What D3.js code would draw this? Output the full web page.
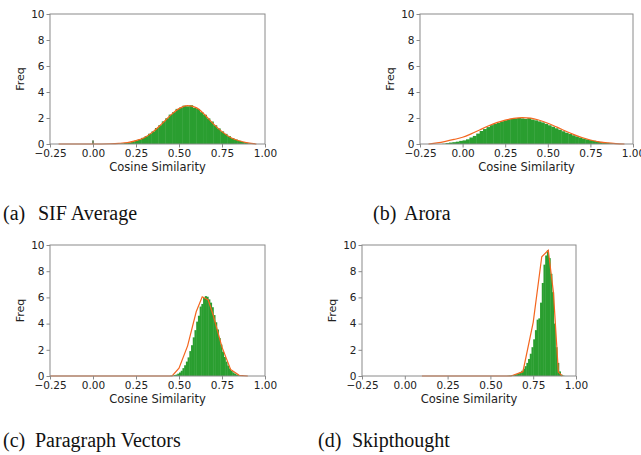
<!DOCTYPE html>
<html><head><meta charset="utf-8">
<script src="https://cdn.jsdelivr.net/npm/d3@7"></script>
<style>body{margin:0;background:#fff}svg{display:block}</style>
</head>
<body><svg id="c" width="641" height="455"></svg>
<script>
// ---------- data ----------
const xTickValues = [-0.25, 0, 0.25, 0.5, 0.75, 1.0];
const yTickValues = [0, 2, 4, 6, 8, 10];
const captionLabels = ["(a)", "(b)", "(c)", "(d)"];
const captionTexts = ["SIF Average", "Arora", "Paragraph Vectors", "Skipthought"];
const xAxisTitle = "Cosine Similarity";
const yAxisTitle = "Freq";

// (a) SIF Average: histogram (bin start, bin width, densities)
const sifBinStart = 0.10, sifBinWidth = 0.02;
const sifHist = [0.01,0.02,0.03,0.05,0.08,0.12,0.18,0.26,0.35,0.47,0.6,0.79,0.97,1.23,1.45,1.74,1.98,2.26,2.45,2.7,2.8,2.95,2.9,2.98,2.78,2.7,2.45,2.25,1.97,1.73,1.44,1.2,0.97,0.78,0.6,0.45,0.34,0.24,0.16,0.1,0.05];
const sifSpikeX = [-0.004], sifSpikeW = 0.008, sifSpikeY = [0.28];
const sifCurveX = [-0.2,0,0.1,0.15,0.2,0.25,0.3,0.35,0.4,0.45,0.5,0.55,0.6,0.65,0.7,0.75,0.8,0.85,0.9,0.95];
const sifCurveY = [0,0,0.02,0.05,0.11,0.26,0.5,0.95,1.55,2.2,2.72,2.95,2.8,2.25,1.55,0.95,0.5,0.25,0.08,0];

// (b) Arora
const aroraBinStart = -0.14, aroraBinWidth = 0.02;
const aroraHist = [0,0.02,0.07,0.11,0.14,0.18,0.24,0.28,0.36,0.5,0.62,0.8,1.0,1.15,1.3,1.45,1.55,1.64,1.74,1.82,1.9,1.94,1.97,2.0,1.97,1.93,1.99,1.88,1.82,1.74,1.66,1.55,1.44,1.33,1.21,1.1,0.98,0.87,0.77,0.67,0.58,0.5,0.42,0.36,0.3,0.25,0.2,0.16,0.12,0.09,0.06,0.03];
const aroraCurveX = [-0.2,-0.15,-0.1,-0.05,0,0.05,0.1,0.15,0.2,0.25,0.3,0.35,0.4,0.45,0.5,0.55,0.6,0.65,0.7,0.75,0.8,0.85,0.9,0.95];
const aroraCurveY = [0,0.08,0.2,0.35,0.52,0.78,1.08,1.38,1.64,1.84,1.97,2.03,1.99,1.83,1.6,1.32,1.02,0.74,0.5,0.31,0.17,0.08,0.03,0];

// (c) Paragraph Vectors
const pvBinStart = 0.45, pvBinWidth = 0.01;
const pvHist = [0.03,0.04,0.07,0.11,0.18,0.27,0.4,0.6,0.82,1.1,1.42,1.9,2.35,2.95,3.5,4.15,4.6,5.3,5.5,5.95,6.1,6.05,5.85,5.6,5.25,4.65,4.1,3.55,2.9,2.4,1.85,1.45,1.1,0.8,0.57,0.4,0.27,0.18,0.11,0.07,0.04,0.03];
const pvCurveX = [-0.25,0.46,0.5,0.55,0.6,0.635,0.67,0.7,0.75,0.8,0.85,0.9];
const pvCurveY = [0,0,0.6,2.3,4.9,6.05,5.8,4.6,2.2,0.5,0.05,0];

// (d) Skipthought
const skipBinStart = 0.60, skipBinWidth = 0.01;
const skipHist = [0.02,0.03,0.05,0.07,0.1,0.14,0.2,0.28,0.4,0.55,0.75,1.0,1.3,1.7,2.2,2.8,3.5,4.3,4.4,5.6,7.1,8.5,9.2,9.6,9.0,7.8,6.4,4.0,2.2,1.0,0.35,0.1,0.03];
const skipCurveX = [0.1,0.62,0.69,0.75,0.8,0.838,0.868,0.897,0.92];
const skipCurveY = [0,0,0.33,4.1,9.1,9.6,6.4,0.3,0];

// ---------- layout ----------
const panels = [
  {l:50,  r:265, t:14,  b:144, capX:3,   capRestX:38,  capY:220, start:sifBinStart, width:sifBinWidth, hist:sifHist, cx:sifCurveX, cy:sifCurveY, curve:d3.curveMonotoneX, spike:true},
  {l:420, r:633, t:14,  b:144, capX:373, capRestX:404, capY:220, start:aroraBinStart, width:aroraBinWidth, hist:aroraHist, cx:aroraCurveX, cy:aroraCurveY, curve:d3.curveMonotoneX},
  {l:50,  r:265, t:245, b:376, capX:3,   capRestX:35,  capY:447, start:pvBinStart, width:pvBinWidth, hist:pvHist, cx:pvCurveX, cy:pvCurveY, curve:d3.curveLinear},
  {l:362, r:576, t:245, b:376, capX:318, capRestX:352, capY:447, start:skipBinStart, width:skipBinWidth, hist:skipHist, cx:skipCurveX, cy:skipCurveY, curve:d3.curveLinear}
];

const GREEN = "#2a9e30", ORANGE = "#f4661f", SPINE = "#8a8a8a", TXT = "#222";
const FONT = "DejaVu Sans, sans-serif";
const svg = d3.select("#c");

panels.forEach((p, i) => {
  const x = d3.scaleLinear().domain([-0.25, 1.0]).range([p.l, p.r]);
  const y = d3.scaleLinear().domain([0, 10]).range([p.b, p.t]);
  const g = svg.append("g");

  // histogram bars
  g.append("g").selectAll("rect").data(p.hist).join("rect")
    .attr("x", (d, k) => x(p.start + k * p.width))
    .attr("width", (d, k) => x(p.start + (k + 1) * p.width) - x(p.start + k * p.width) + 0.4)
    .attr("y", d => y(d))
    .attr("height", d => y(0) - y(d))
    .attr("fill", GREEN);

  if (p.spike) {
    g.append("g").selectAll("rect").data(sifSpikeY).join("rect")
      .attr("x", (d, k) => x(sifSpikeX[k]))
      .attr("width", (d, k) => Math.max(1.2, x(sifSpikeX[k] + sifSpikeW) - x(sifSpikeX[k])))
      .attr("y", d => y(d))
      .attr("height", d => y(0) - y(d))
      .attr("fill", "#3d5a2a");
  }

  // fitted line
  const line = d3.line().x((d, k) => x(p.cx[k])).y(d => y(d)).curve(p.curve);
  g.append("path").datum(p.cy).attr("d", line)
    .attr("fill", "none").attr("stroke", ORANGE).attr("stroke-width", 1.2);

  // frame
  g.append("rect").attr("x", p.l).attr("y", p.t).attr("width", p.r - p.l).attr("height", p.b - p.t)
    .attr("fill", "none").attr("stroke", SPINE).attr("stroke-width", 1);

  // axes
  const xa = g.append("g").attr("transform", `translate(0,${p.b})`)
    .call(d3.axisBottom(x).tickValues(xTickValues).tickSize(3.5).tickPadding(2)
      .tickFormat(d => d3.format(".2f")(d).replace("-", "\u2212")));
  const ya = g.append("g").attr("transform", `translate(${p.l},0)`)
    .call(d3.axisLeft(y).tickValues(yTickValues).tickSize(3.5).tickPadding(2).tickFormat(d3.format("d")));
  [xa, ya].forEach(a => {
    a.select(".domain").remove();
    a.selectAll(".tick line").attr("stroke", SPINE);
    a.selectAll(".tick text").attr("fill", TXT).style("font-family", FONT).style("font-size", "10.5px");
  });

  // axis titles
  g.append("text").attr("x", (p.l + p.r) / 2).attr("y", p.b + 27)
    .attr("text-anchor", "middle").attr("fill", TXT)
    .style("font-family", FONT).style("font-size", "11.5px").text(xAxisTitle);
  g.append("text").attr("transform", `translate(${p.l - 26},${(p.t + p.b) / 2}) rotate(-90)`)
    .attr("text-anchor", "middle").attr("fill", TXT)
    .style("font-family", FONT).style("font-size", "11px").text(yAxisTitle);

  // caption
  g.append("text").attr("x", p.capX).attr("y", p.capY).attr("fill", "#111")
    .style("font-family", "Liberation Serif, Times New Roman, serif").style("font-size", "20px")
    .text(captionLabels[i]);
  g.append("text").attr("x", p.capRestX).attr("y", p.capY).attr("fill", "#111")
    .style("font-family", "Liberation Serif, Times New Roman, serif").style("font-size", "20px")
    .text(captionTexts[i]);
});
</script>
</body></html>
